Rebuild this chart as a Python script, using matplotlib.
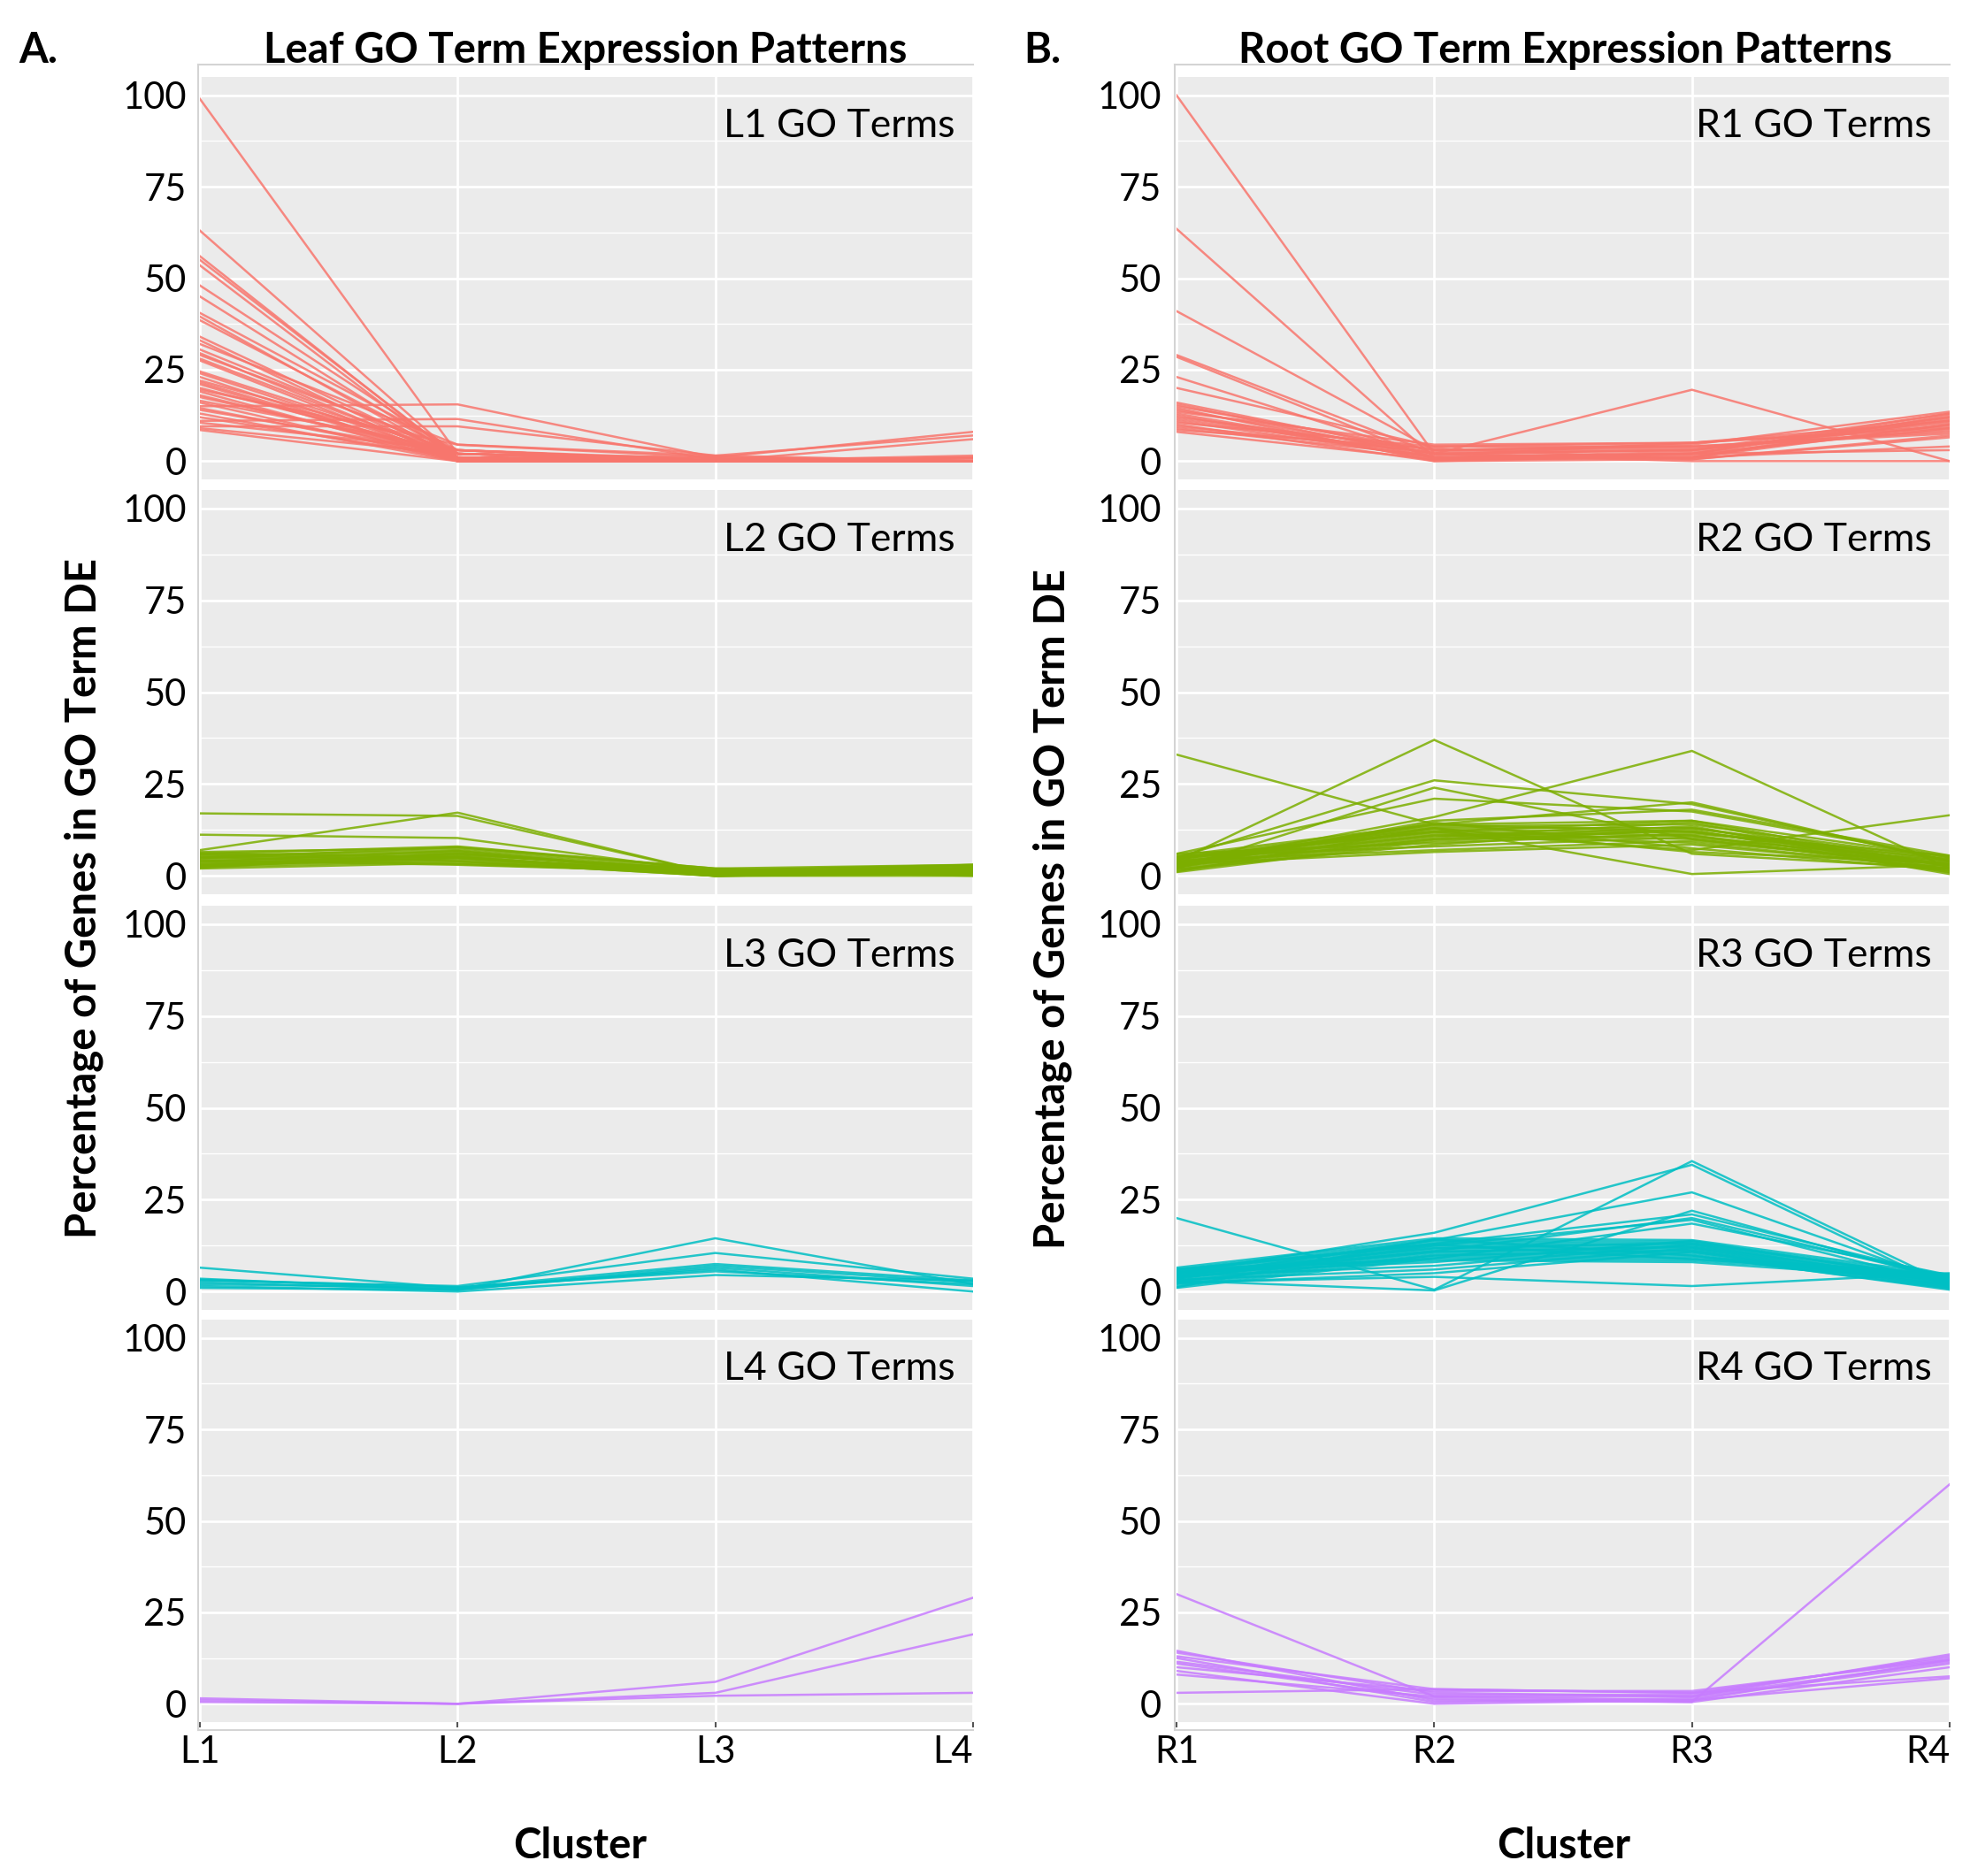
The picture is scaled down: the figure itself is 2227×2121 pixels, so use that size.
import matplotlib
matplotlib.use("Agg")
import matplotlib.pyplot as plt
from matplotlib.lines import Line2D

# ---------------- data ----------------
leaf_clusters = ["L1", "L2", "L3", "L4"]
root_clusters = ["R1", "R2", "R3", "R4"]
y_ticks = [0, 25, 50, 75, 100]

leaf_L1_terms = [
    [99, 2, 0, 0], [63, 1, 0, 0], [56, 0.5, 0, 0], [55, 1, 0, 0], [53.5, 0, 0, 0],
    [48, 2, 0.5, 0], [45, 1, 0, 0], [40.5, 3, 0, 0.5], [39.5, 0.5, 0, 0], [38.5, 2, 0, 0],
    [34, 1, 0, 0], [33, 0, 0, 1], [32, 4.5, 1, 0], [30.5, 2, 0, 0], [29.5, 0.5, 0, 0],
    [29, 3, 0, 0], [28, 1, 0, 0], [27.5, 0, 0, 0], [24.5, 2, 1, 8], [24, 1, 0, 0],
    [23, 0, 0, 0], [22, 3, 0, 1.5], [21.5, 1, 0, 0], [21, 0.5, 0, 0], [20, 2, 0, 0],
    [19.5, 4.5, 1.5, 7], [19, 0, 0, 0], [18, 1, 0, 0], [17.5, 2, 0, 1], [16.5, 3, 0.5, 0],
    [16, 0, 0, 0], [15, 15.5, 1, 0], [14.5, 1, 0, 0], [14, 2, 0, 6], [13, 0, 0, 0],
    [12, 1, 0, 0], [11, 11.5, 0.5, 0], [10.5, 3, 0, 1], [9.5, 9.5, 1.5, 0], [9, 2, 0, 0],
    [8.5, 0, 0, 0],
]
leaf_L2_terms = [
    [17, 16.3, 0.5, 1], [7, 17.2, 0.5, 0.5], [11.2, 10.3, 1, 2],
    [6.5, 7.5, 1.5, 2.5], [6, 8, 2, 3], [5.5, 7, 1, 2], [5, 6.5, 0.5, 1.5],
    [4.5, 6, 1.5, 3], [4, 5.5, 0, 0.5], [3.5, 5, 1, 1], [3, 4.5, 0.5, 2],
    [2.5, 4, 0, 0], [2, 3.5, 1, 1.5], [6.2, 5, 0.5, 2.5], [5.8, 4, 0, 1],
    [4.8, 7.8, 2, 0.5], [4.2, 3, 1, 2], [3.8, 6.8, 0.5, 3], [3.2, 5.8, 1.5, 0],
    [2.8, 4.8, 0, 1], [2.2, 6.2, 0.5, 2], [5.2, 3.2, 1, 0.5], [2.6, 5.3, 0, 1.5],
]
leaf_L3_terms = [
    [6.5, 1, 7.5, 3], [3.5, 0.5, 14.5, 2], [3, 1.5, 10.5, 3.5], [2.5, 0.5, 7, 2.5],
    [2, 1, 6, 0], [1.5, 0, 4.5, 3], [1, 0.5, 6.5, 1.5], [3.2, 1.2, 5.5, 2],
]
leaf_L4_terms = [
    [1.5, 0, 6, 29], [1, 0, 3, 19], [0.5, 0, 2.2, 3],
]

root_R1_terms = [
    [100, 2, 1, 10], [63.5, 1, 2, 12], [41, 3, 4, 8], [29, 2, 3, 11], [28.5, 0.5, 1, 4],
    [23, 1, 2, 13], [20, 4, 5, 9], [16, 2, 19.5, 0], [15.5, 1, 1, 12.5], [15, 3, 4.5, 13.5],
    [14.5, 0, 0.5, 7], [14, 2, 3, 10.5], [13.5, 4.5, 5, 9.5], [13, 1, 2, 3], [12.5, 0.5, 1, 11.5],
    [12, 3, 3.5, 8.5], [11.5, 2, 0, 0], [11, 1, 2.5, 12], [10.5, 4, 4, 7.5], [10, 0, 1.5, 10],
    [9.5, 2.5, 3, 13], [9, 1.5, 5, 11], [8.5, 3.5, 0.5, 6.5], [8, 0.5, 2, 9],
]
root_R2_terms = [
    [33, 14, 12, 3], [4, 37, 6, 2], [3, 16, 34, 2], [5, 26, 19.5, 4], [2, 24, 10, 3],
    [6, 21, 17.5, 5], [3.5, 14, 20, 4], [4.5, 13, 0.5, 3], [5, 12, 7, 16.5], [2.5, 15, 18, 5.5],
    [5.5, 14, 15, 5], [5, 13.5, 14, 4.5], [4.5, 13, 13, 4], [4, 12.5, 12, 3.5],
    [3.5, 12, 11, 3], [3, 11.5, 10, 2.5], [2.5, 11, 9, 2], [2, 10.5, 14.5, 1.5],
    [1.5, 10, 13.5, 1], [1, 9.5, 12.5, 0.5], [6, 9, 11.5, 5.5], [5.2, 8, 10.5, 4],
    [4.2, 7, 9.5, 3], [3.2, 6.5, 8.5, 2], [2.2, 14.5, 7.5, 1.5], [1.2, 13, 6.5, 3.5],
    [4.8, 12, 15, 2.5], [3.8, 11, 12, 4.5], [2.8, 10, 11, 1], [1.8, 8.5, 13, 3],
]
root_R3_terms = [
    [20, 0.5, 35.5, 2], [3, 0.3, 22, 3], [5, 16, 34.5, 1], [4, 14, 27, 2.5],
    [6, 13, 21, 4], [4.5, 11, 20, 3.5], [3.5, 12.5, 19.5, 2], [5.5, 9, 18.5, 4.5],
    [2.5, 4, 1.5, 5],
    [6.5, 14.5, 14, 4.5], [6, 14, 13.5, 4], [5.5, 13.5, 13, 3.5], [5, 13, 12.5, 3],
    [4.5, 12.5, 12, 2.5], [4, 12, 11.5, 2], [3.5, 11.5, 11, 1.5], [3, 11, 10.5, 1],
    [2.5, 10.5, 10, 0.5], [2, 10, 9.5, 4.8], [1.5, 9.5, 9, 4.2], [1, 9, 8.5, 3.8],
    [6.2, 8.5, 8, 3.2], [5.2, 8, 13.8, 2.8], [4.2, 7, 12.8, 2.2], [3.2, 6, 11.8, 1.8],
    [2.2, 5, 10.8, 1.2], [1.2, 14.2, 9.8, 0.8], [5.8, 12.8, 8.8, 4.6], [4.8, 11.8, 13.2, 3.6],
    [3.8, 10.8, 12.2, 2.6], [2.8, 9.8, 11.2, 1.6],
]
root_R4_terms = [
    [30, 2, 1, 12], [14.5, 1, 0.5, 60], [14, 3, 2, 13.5], [13, 4, 3, 12.5],
    [12.5, 0.5, 1.5, 11], [11.5, 2.5, 2.5, 13], [11, 1.5, 0.5, 10], [10, 3.5, 3.5, 12],
    [9, 0, 1, 7], [8, 2, 2, 11.5], [3, 4, 3, 7.5],
]

leaf_panels = [("L1 GO Terms", leaf_L1_terms), ("L2 GO Terms", leaf_L2_terms),
               ("L3 GO Terms", leaf_L3_terms), ("L4 GO Terms", leaf_L4_terms)]
root_panels = [("R1 GO Terms", root_R1_terms), ("R2 GO Terms", root_R2_terms),
               ("R3 GO Terms", root_R3_terms), ("R4 GO Terms", root_R4_terms)]
panel_colors = ["#F8766D", "#7CAE00", "#00BFC4", "#C77CFF"]

# ---------------- layout ----------------
W, H = 2227, 2121
plt.rcParams['font.family'] = ['Lato', 'DejaVu Sans']
fig = plt.figure(figsize=(W / 100, H / 100), dpi=100)

rows = [(87, 542), (554, 1011), (1024, 1481), (1492, 1947)]
cols = [(226, 1100), (1330, 2204)]


def rect(x0, y0, x1, y1):
    return [x0 / W, 1 - y1 / H, (x1 - x0) / W, (y1 - y0) / H]


BG = "#EBEBEB"
FS = 30
FS_LAB = 32
FS_BOLD = 34

for ci, (panels, clusters) in enumerate([(leaf_panels, leaf_clusters),
                                          (root_panels, root_clusters)]):
    x0, x1 = cols[ci]
    for ri, (label, series) in enumerate(panels):
        y0, y1 = rows[ri]
        ax = fig.add_axes(rect(x0, y0, x1, y1))
        ax.set_facecolor(BG)
        for s in ax.spines.values():
            s.set_visible(False)
        xs = list(range(len(clusters)))
        for vals in series:
            ax.plot(xs, vals, color=panel_colors[ri], lw=1.8, alpha=0.85,
                    solid_joinstyle='miter', zorder=3)
        ax.set_xlim(0, len(clusters) - 1)
        ax.set_ylim(-5, 105)
        ax.set_yticks(y_ticks)
        ax.set_yticks([12.5, 37.5, 62.5, 87.5], minor=True)
        ax.set_xticks(xs)
        ax.grid(which='major', color='white', lw=2.0, zorder=1)
        ax.grid(which='minor', axis='y', color='white', lw=1.0, zorder=1)
        ax.set_axisbelow(True)
        ax.tick_params(axis='y', which='both', length=0,
                       pad=11 if ci == 0 else 12, labelsize=FS, labelcolor='black')
        if ri == len(panels) - 1:
            ax.set_xticklabels(clusters)
            ax.tick_params(axis='x', length=4, width=1.5, color='#555555',
                           labelsize=FS, pad=7, labelcolor='black')
            lbls = ax.get_xticklabels()
            lbls[-1].set_horizontalalignment('right')
        else:
            ax.tick_params(axis='x', length=0, labelbottom=False)
        ax.text(2.93, 88.5, label, ha='right', va='baseline',
                fontsize=FS_LAB, color='black', zorder=5)

    # light grey frame lines
    fc = '#D4D4D4'
    xl = (x0 - 2) / W
    fig.add_artist(Line2D([xl, x1 / W], [1 - 73 / H, 1 - 73 / H],
                          color=fc, lw=1.5, transform=fig.transFigure))
    fig.add_artist(Line2D([xl, xl], [1 - 73 / H, 1 - 1956 / H],
                          color=fc, lw=1.5, transform=fig.transFigure))
    fig.add_artist(Line2D([xl, x1 / W], [1 - 1956 / H, 1 - 1956 / H],
                          color=fc, lw=1.5, transform=fig.transFigure))

# titles and labels
fig.text(662 / W, 1 - 57 / H, "Leaf GO Term Expression Patterns", ha='center', va='center',
         fontsize=FS_BOLD, fontweight='bold')
fig.text(1769 / W, 1 - 57 / H, "Root GO Term Expression Patterns", ha='center', va='center',
         fontsize=FS_BOLD, fontweight='bold')
fig.text(21 / W, 1 - 57 / H, "A.", ha='left', va='center', fontsize=FS_BOLD, fontweight='bold')
fig.text(1157 / W, 1 - 57 / H, "B.", ha='left', va='center', fontsize=FS_BOLD, fontweight='bold')
fig.text(95 / W, 1 - 1015 / H, "Percentage of Genes in GO Term DE", rotation=90,
         ha='center', va='center', fontsize=FS_BOLD, fontweight='bold')
fig.text(1190 / W, 1 - 1027 / H, "Percentage of Genes in GO Term DE", rotation=90,
         ha='center', va='center', fontsize=FS_BOLD, fontweight='bold')
fig.text(656 / W, 1 - 2087 / H, "Cluster", ha='center', va='center',
         fontsize=FS_BOLD, fontweight='bold')
fig.text(1768 / W, 1 - 2087 / H, "Cluster", ha='center', va='center',
         fontsize=FS_BOLD, fontweight='bold')

fig.savefig("out.png", dpi=100, facecolor='white')
